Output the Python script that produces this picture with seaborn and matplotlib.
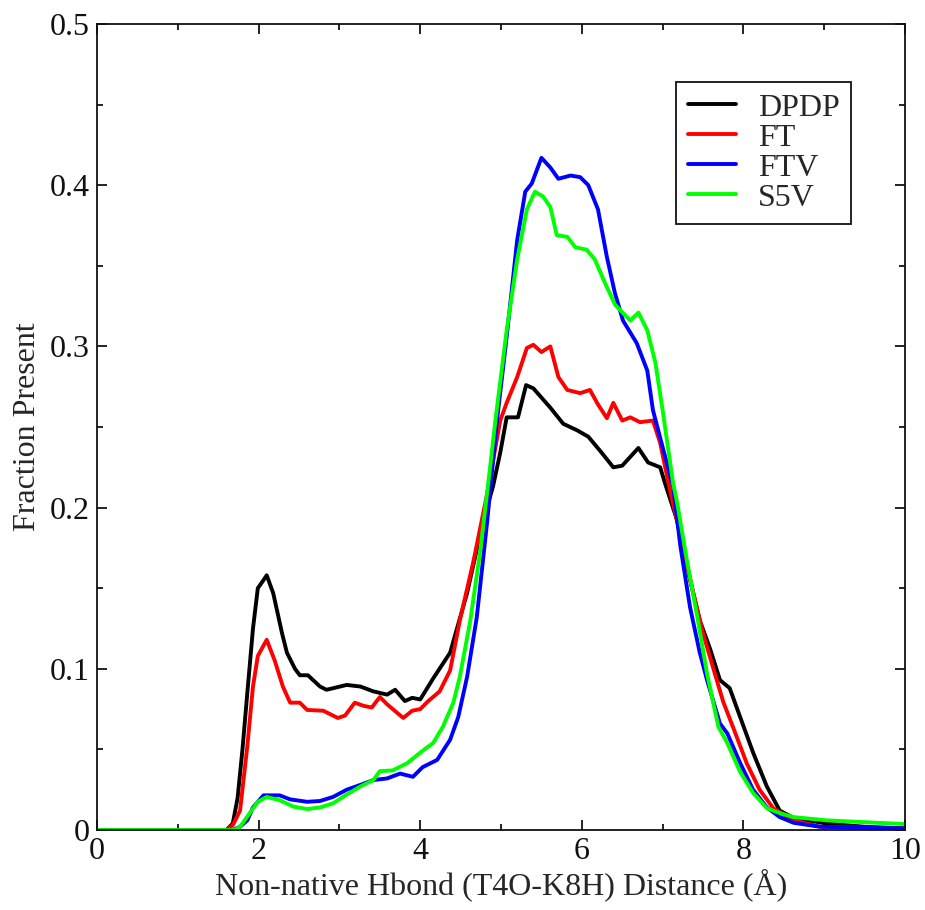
import numpy as np
import pandas as pd
import seaborn as sns
import matplotlib
matplotlib.use("Agg")
import matplotlib.pyplot as plt
from matplotlib.ticker import MultipleLocator, FuncFormatter

# ── data ──────────────────────────────────────────────────
dpdp_x = [0, 1.6, 1.68, 1.74, 1.8, 1.86, 1.93, 1.99, 2.06, 2.1, 2.18, 2.29, 2.35, 2.45, 2.51,
          2.61, 2.76, 2.84, 3.09, 3.26, 3.42, 3.59, 3.69, 3.81, 3.9, 4.0, 4.16, 4.37, 4.58,
          4.78, 4.9, 4.99, 5.07, 5.21, 5.31, 5.4, 5.61, 5.77, 5.94, 6.08, 6.23, 6.39, 6.5,
          6.7, 6.82, 6.97, 7.03, 7.18, 7.34, 7.46, 7.59, 7.71, 7.83, 7.96, 8.12, 8.29, 8.45,
          8.62, 9.03, 9.5, 10.0]
dpdp_y = [0, 0, 0.004, 0.02, 0.05, 0.085, 0.125, 0.15, 0.155, 0.158, 0.147, 0.122, 0.110, 0.100, 0.096,
          0.096, 0.089, 0.087, 0.090, 0.089, 0.086, 0.084, 0.087, 0.080, 0.082, 0.081, 0.094, 0.110, 0.147,
          0.192, 0.213, 0.234, 0.256, 0.256, 0.276, 0.274, 0.262, 0.252, 0.248, 0.244, 0.235, 0.225, 0.226,
          0.237, 0.228, 0.225, 0.215, 0.192, 0.155, 0.130, 0.112, 0.093, 0.088, 0.070, 0.048, 0.027, 0.012,
          0.0075, 0.004, 0.002, 0.001]

ft_x = [0, 1.6, 1.68, 1.77, 1.86, 1.93, 1.99, 2.1, 2.2, 2.3, 2.39, 2.51, 2.6, 2.8, 2.98, 3.07,
        3.19, 3.3, 3.4, 3.5, 3.59, 3.79, 3.9, 4.0, 4.1, 4.24, 4.37, 4.49, 4.66, 4.83, 4.99,
        5.07, 5.2, 5.32, 5.4, 5.5, 5.61, 5.71, 5.82, 5.98, 6.1, 6.2, 6.31, 6.39, 6.5, 6.6,
        6.72, 6.88, 6.97, 7.09, 7.25, 7.38, 7.5, 7.67, 7.75, 7.87, 8.04, 8.2, 8.37, 8.62,
        8.95, 10.0]
ft_y = [0, 0, 0.003, 0.012, 0.052, 0.089, 0.108, 0.118, 0.105, 0.089, 0.079, 0.079, 0.0745, 0.074, 0.0695, 0.071,
        0.079, 0.077, 0.076, 0.0825, 0.078, 0.0695, 0.074, 0.075, 0.080, 0.086, 0.099, 0.130, 0.167, 0.209, 0.254,
        0.265, 0.281, 0.299, 0.301, 0.2965, 0.300, 0.281, 0.273, 0.271, 0.273, 0.264, 0.2555, 0.265, 0.254, 0.256,
        0.253, 0.254, 0.240, 0.211, 0.176, 0.147, 0.122, 0.093, 0.0795, 0.064, 0.0415, 0.025, 0.0135, 0.006,
        0.002, 0.001]

ftv_x = [0, 1.68, 1.77, 1.86, 1.93, 2.06, 2.26, 2.39, 2.6, 2.76, 2.92, 3.09, 3.26, 3.42, 3.59,
         3.75, 3.91, 4.03, 4.21, 4.37, 4.47, 4.58, 4.7, 4.83, 4.95, 5.07, 5.2, 5.3, 5.38, 5.5,
         5.61, 5.71, 5.86, 5.98, 6.08, 6.2, 6.31, 6.41, 6.51, 6.68, 6.81, 6.88, 7.0, 7.13,
         7.22, 7.34, 7.46, 7.55, 7.71, 7.8, 7.96, 8.12, 8.29, 8.45, 8.62, 8.95, 10.0]
ftv_y = [0, 0, 0.002, 0.006, 0.014, 0.0215, 0.0215, 0.019, 0.0175, 0.018, 0.0205, 0.025, 0.028, 0.031, 0.032,
         0.035, 0.033, 0.039, 0.0435, 0.056, 0.070, 0.095, 0.132, 0.192, 0.254, 0.306, 0.366, 0.396, 0.401, 0.417,
         0.411, 0.404, 0.406, 0.405, 0.400, 0.385, 0.3555, 0.333, 0.316, 0.302, 0.285, 0.2605, 0.2375, 0.213,
         0.176, 0.138, 0.110, 0.093, 0.066, 0.060, 0.0415, 0.025, 0.014, 0.008, 0.0045, 0.002, 0.001]

s5v_x = [0, 1.7, 1.77, 1.89, 1.99, 2.1, 2.26, 2.43, 2.6, 2.76, 2.92, 3.09, 3.26, 3.42, 3.5,
         3.66, 3.84, 4.0, 4.16, 4.28, 4.41, 4.49, 4.62, 4.74, 4.86, 4.93, 5.07, 5.2, 5.32,
         5.42, 5.52, 5.61, 5.69, 5.82, 5.92, 6.06, 6.16, 6.29, 6.41, 6.6, 6.7, 6.81, 6.91,
         7.0, 7.13, 7.18, 7.3, 7.43, 7.55, 7.69, 7.8, 7.96, 8.12, 8.29, 8.45, 8.62, 9.03,
         9.44, 10.0]
s5v_y = [0, 0, 0.002, 0.0105, 0.0175, 0.0205, 0.0185, 0.0145, 0.013, 0.014, 0.0165, 0.022, 0.027, 0.031, 0.0365,
         0.037, 0.0415, 0.048, 0.054, 0.064, 0.079, 0.095, 0.130, 0.172, 0.223, 0.254, 0.310, 0.354, 0.385,
         0.396, 0.393, 0.3865, 0.369, 0.368, 0.3615, 0.360, 0.354, 0.339, 0.326, 0.316, 0.321, 0.310, 0.290,
         0.2605, 0.215, 0.203, 0.1675, 0.132, 0.097, 0.064, 0.054, 0.036, 0.023, 0.0135, 0.0105, 0.008, 0.006,
         0.005, 0.0037]

series_names = ["DPDP", "FT", "FTV", "S5V"]
series_colors = ["#000000", "#ff0000", "#0000ff", "#00ff00"]

rows = []
for name, xs, ys in zip(series_names, [dpdp_x, ft_x, ftv_x, s5v_x], [dpdp_y, ft_y, ftv_y, s5v_y]):
    for xv, yv in zip(xs, ys):
        rows.append({"x": xv, "y": yv, "series": name})
df = pd.DataFrame(rows)

# ── plot ──────────────────────────────────────────────────
sns.set_theme(style="ticks")
plt.rcParams["font.family"] = ["Liberation Serif", "DejaVu Serif"]

fig = plt.figure(figsize=(9.25, 9.1), dpi=100)
ax = fig.add_axes([0.1049, 0.0879, 0.8735, 0.8857])

sns.lineplot(data=df, x="x", y="y", hue="series", hue_order=series_names,
             palette=dict(zip(series_names, series_colors)), estimator=None, sort=False,
             linewidth=2.8, ax=ax)

ax.set_xlim(0, 10)
ax.set_ylim(0, 0.5)
ax.xaxis.set_major_locator(MultipleLocator(2))
ax.xaxis.set_minor_locator(MultipleLocator(1))
ax.yaxis.set_major_locator(MultipleLocator(0.1))
ax.yaxis.set_minor_locator(MultipleLocator(0.05))
fmt = FuncFormatter(lambda v, p: f"{v:g}")
ax.xaxis.set_major_formatter(fmt)
ax.yaxis.set_major_formatter(fmt)

ax.tick_params(which="both", direction="in", top=True, right=True, width=1.3, colors="#111111")
ax.tick_params(which="major", length=7, labelsize=23, pad=5)
ax.tick_params(which="minor", length=4)
for sp in ax.spines.values():
    sp.set_linewidth(1.3)
    sp.set_color("#111111")

ax.set_xlabel("Non-native Hbond (T4O-K8H) Distance (Å)", fontsize=23, labelpad=2)
ax.set_ylabel("Fraction Present", fontsize=23, labelpad=6)

leg = ax.legend(loc="upper right", bbox_to_anchor=(0.933, 0.928), fontsize=23,
                frameon=True, fancybox=False, framealpha=1, edgecolor="#111111",
                handlelength=1.5, handletextpad=0.7, labelspacing=0.02,
                borderpad=0.35, borderaxespad=0)
leg.get_frame().set_linewidth(1.3)
for line in leg.get_lines():
    line.set_linewidth(2.8)

fig.savefig("out.png", dpi=100)
